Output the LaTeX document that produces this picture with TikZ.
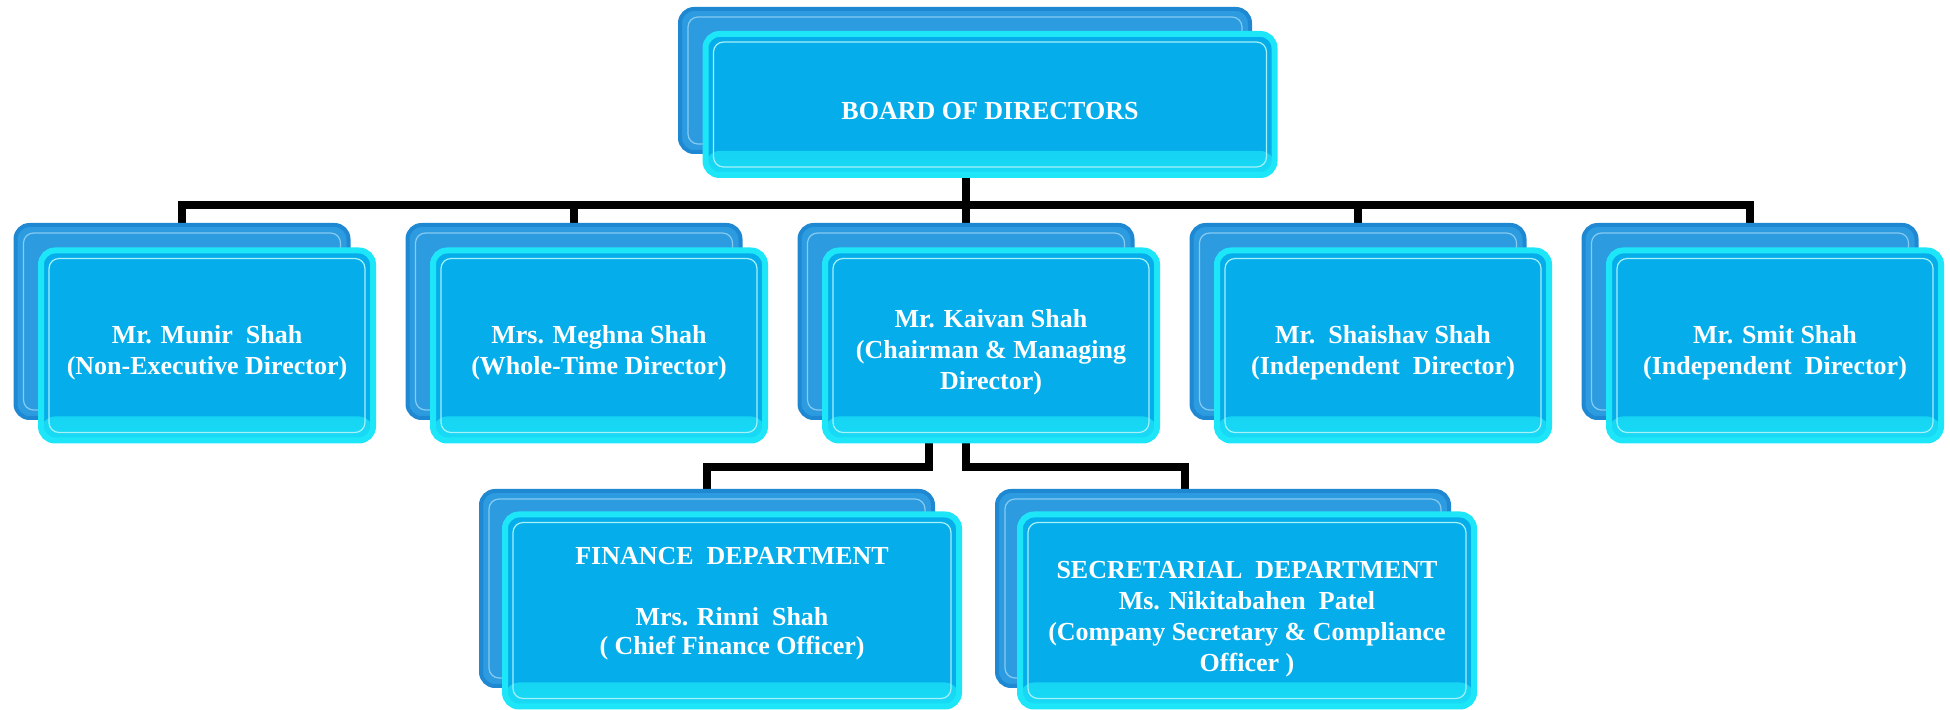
\documentclass[tikz,border=0pt]{standalone}
\usepackage{fontspec}
\setmainfont{Liberation Serif}
\usetikzlibrary{positioning,backgrounds}

\definecolor{backblue}{HTML}{2C9BE0}
\definecolor{backedge}{HTML}{1F88D2}
\definecolor{backline}{HTML}{86CBF2}
\definecolor{frontblue}{HTML}{05AEEA}
\definecolor{glow}{HTML}{1DE6F8}
\definecolor{frontline}{HTML}{A6F0FA}

% invisible struts to sit the text a little lower / higher in a box
\newcommand{\topgap}[1]{\rule{0pt}{#1}}
\newcommand{\botgap}[1]{\rule[-#1]{0pt}{#1}}

\tikzset{
  backbox/.style={draw=backedge, line width=2pt, fill=backblue, rounded corners=7pt,
    inner sep=0pt, outer sep=0pt, minimum width=166.5pt, minimum height=96.5pt,
    path picture={
      \draw[backline, line width=0.6pt, rounded corners=5pt]
        ([shift={(4pt,-4pt)}]path picture bounding box.north west) rectangle
        ([shift={(-4pt,4pt)}]path picture bounding box.south east);
    }},
  frontbox/.style={draw=glow, line width=3pt, fill=frontblue, rounded corners=7pt,
    inner sep=0pt, outer sep=0pt, minimum width=166pt, minimum height=95pt,
    text=white, align=center, font=\fontsize{13}{15.5}\selectfont\bfseries,
    path picture={
      \shade[top color=frontblue, bottom color=glow!80!frontblue]
        ([yshift=12pt]path picture bounding box.south west) rectangle
        (path picture bounding box.south east);
      \draw[frontline, line width=0.6pt, rounded corners=5pt]
        ([shift={(4pt,-4pt)}]path picture bounding box.north west) rectangle
        ([shift={(-4pt,4pt)}]path picture bounding box.south east);
    }},
  link/.style={draw=black, line width=3.75pt}
}

\begin{document}
\begin{tikzpicture}[x=0.5pt, y=-0.5pt]
  \useasboundingbox (0,0) rectangle (1950,710);

  % board
  \node[backbox, minimum width=285pt, minimum height=71.5pt] (board-b) at (965,80.5) {};
  \node[frontbox, minimum width=284.5pt, minimum height=70.5pt]
    (board) at ([shift={(12.5pt,-12pt)}]board-b.center) {\topgap{15pt}BOARD OF DIRECTORS};

  % directors
  \node[backbox] (munir-b) at (182,321.5) {};
  \node[backbox, right=29.5pt of munir-b] (meghna-b) {};
  \node[backbox, right=29.5pt of meghna-b] (kaivan-b) {};
  \node[backbox, right=29.5pt of kaivan-b] (shaishav-b) {};
  \node[backbox, right=29.5pt of shaishav-b] (smit-b) {};

  \node[frontbox] (munir) at ([shift={(12.5pt,-12pt)}]munir-b.center)
    {\topgap{16pt}Mr. Munir\ \ Shah\\(Non-Executive Director)};
  \node[frontbox] (meghna) at ([shift={(12.5pt,-12pt)}]meghna-b.center)
    {\topgap{16pt}Mrs. Meghna Shah\\(Whole-Time Director)};
  \node[frontbox] (kaivan) at ([shift={(12.5pt,-12pt)}]kaivan-b.center)
    {\topgap{16pt}Mr. Kaivan Shah\\(Chairman \& Managing\\Director)};
  \node[frontbox] (shaishav) at ([shift={(12.5pt,-12pt)}]shaishav-b.center)
    {\topgap{16pt}Mr.\ \ Shaishav Shah\\(Independent\ \ Director)};
  \node[frontbox] (smit) at ([shift={(12.5pt,-12pt)}]smit-b.center)
    {\topgap{16pt}Mr. Smit Shah\\(Independent\ \ Director)};

  % departments
  \node[backbox, minimum width=226pt, minimum height=97.5pt] (finance-b) at (707,588.5) {};
  \node[backbox, minimum width=226pt, minimum height=97.5pt, right=32pt of finance-b] (secret-b) {};

  \node[frontbox, minimum width=227pt, minimum height=96pt, font=\fontsize{13}{14.5}\selectfont\bfseries] (finance)
    at ([shift={(12.5pt,-11pt)}]finance-b.center)
    {FINANCE\ \ DEPARTMENT\\[16pt]Mrs. Rinni\ \ Shah\\( Chief Finance Officer)\botgap{10pt}};
  \node[frontbox, minimum width=227pt, minimum height=96pt] (secret)
    at ([shift={(12pt,-11pt)}]secret-b.center)
    {\topgap{17.5pt}SECRETARIAL\ \ DEPARTMENT\\Ms. Nikitabahen\ \ Patel\\(Company Secretary \& Compliance\\Officer )};

  \begin{scope}[on background layer]
    \draw[link] (board.south -| kaivan-b.north) -- (kaivan-b.north);
    \draw[link] (munir-b.north) |- ([yshift=10pt]smit-b.north) -- (smit-b.north);
    \foreach \n in {meghna,shaishav}
      \draw[link] (\n-b.north) -- ++(0,-20);
    \draw[link] ([xshift=-18.5pt]kaivan-b.south) |- ([yshift=12pt]finance-b.north) -- (finance-b.north);
    \draw[link] (kaivan-b.south) |- ([xshift=-19pt,yshift=12pt]secret-b.north) -- ([xshift=-19pt]secret-b.north);
  \end{scope}
\end{tikzpicture}
\end{document}
